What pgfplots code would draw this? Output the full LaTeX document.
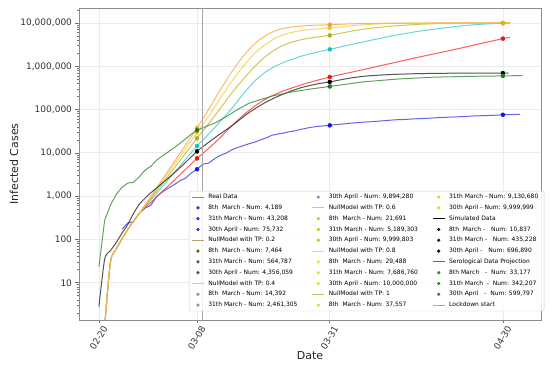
\documentclass[border=0pt]{standalone}
\usepackage{fontspec}
\setmainfont{DejaVu Sans}
\usepackage{pgfplots}
\pgfplotsset{compat=1.18}

% plot colours
\definecolor{cReal}{RGB}{60,60,235}
\definecolor{cT02}{RGB}{255,50,50}
\definecolor{cT04}{RGB}{64,208,200}
\definecolor{cT06}{RGB}{195,185,45}
\definecolor{cT08}{RGB}{245,205,70}
\definecolor{cT10}{RGB}{245,170,75}
\definecolor{cSim}{RGB}{40,40,40}
\definecolor{cSero}{RGB}{55,140,55}
\definecolor{cLock}{RGB}{165,165,165}
% marker colours
\definecolor{mReal}{RGB}{20,20,230}
\definecolor{mT02}{RGB}{235,20,20}
\definecolor{mT04}{RGB}{30,190,190}
\definecolor{mT06}{RGB}{175,175,30}
\definecolor{mT08}{RGB}{235,205,30}
\definecolor{mT10}{RGB}{240,165,40}
\definecolor{mSero}{RGB}{30,120,30}
% legend colours
\definecolor{lReal}{RGB}{125,125,230}
\definecolor{lT02}{RGB}{185,160,110}
\definecolor{dT02}{RGB}{95,65,25}
\definecolor{lT04}{RGB}{175,200,240}
\definecolor{dT04}{RGB}{120,135,195}
\definecolor{lT06}{RGB}{210,210,70}
\definecolor{dT06}{RGB}{180,200,30}
\definecolor{lT08}{RGB}{215,215,150}
\definecolor{dT08}{RGB}{225,225,35}
\definecolor{lT10}{RGB}{195,190,90}
\definecolor{dT10}{RGB}{215,215,35}

\pgfplotsset{
  lline/.style={no markers, line width=0.8pt, #1},
  ldot/.style={only marks, mark=*, mark size=1.4pt, #1},
  model/.style={#1, line width=1pt, opacity=0.8, smooth, tension=0.45, forget plot},
  pts/.style={only marks, mark=*, mark size=2pt, #1, forget plot},
}
\newcommand{\lgd}[1]{\makebox[92pt][l]{#1}}

\begin{document}
\begin{tikzpicture}
\begin{axis}[
    scale only axis,
    width=462pt, height=312pt,
    xmin=-3.45, xmax=76.6,
    ymode=log, ymin=1.38, ymax=2.22e7,
    cycle list={{solid}},
    xtick={0,17,40,70},
    xticklabels={02-20,03-08,03-31,04-30},
    ytick={10,100,1000,10000,100000,1000000,10000000},
    yticklabels={10,100,{1,000},{10,000},{100,000},{1,000,000},{10,000,000}},
    minor ytick={2,3,4,5,6,7,8,9,20,30,40,50,60,70,80,90,
      200,300,400,500,600,700,800,900,2000,3000,4000,5000,6000,7000,8000,9000,
      20000,30000,40000,50000,60000,70000,80000,90000,
      200000,300000,400000,500000,600000,700000,800000,900000,
      2000000,3000000,4000000,5000000,6000000,7000000,8000000,9000000,20000000},
    tick align=outside, tick pos=left,
    major tick length=3.5pt, minor tick length=2pt,
    grid=major,
    major grid style={black!8, line width=0.8pt},
    axis line style={black!45, line width=0.8pt},
    every tick/.style={black!55, line width=0.6pt},
    tick label style={font=\fontsize{9}{10}\selectfont, text=black!80},
    xticklabel style={rotate=60, anchor=north east, xshift=4pt},
    xlabel={Date}, ylabel={Infected Cases},
    label style={font=\fontsize{11}{13}\selectfont, text=black!85},
    xlabel style={at={(axis description cs:0.5,-0.1154)}, anchor=center},
    ylabel style={at={(axis description cs:-0.1407,0.5)}, anchor=center},
    legend image code/.code={\draw[mark repeat=2, mark phase=2, #1]
      plot coordinates {(0pt,0pt) (6pt,0pt) (12pt,0pt)};},
    legend columns=11,
    transpose legend,
    legend cell align=left,
    legend style={
      at={(0.238,0.4135)}, anchor=north west,
      font=\fontsize{6}{7}\selectfont,
      fill=white, fill opacity=0.85, text opacity=1,
      draw=black!20, rounded corners=2pt, inner sep=2.4pt,
      row sep=3.8pt,
      nodes={inner sep=0.6pt, text height=4.5pt, text depth=1.3pt},
      /tikz/every odd column/.append style={column sep=3.4pt},
      /tikz/every even column/.append style={column sep=11pt},
    },
]

% Real data
\addplot[cReal, line width=1pt, opacity=0.8, forget plot] coordinates {
(4,172) (5,240) (6,258) (7,403) (8,531) (9,615) (10,984) (11,1254) (12,1520)
(13,1820) (14,2251) (15,2612) (16,3420) (17,4189) (18,5469) (19,5791) (20,7280)
(21,8725) (22,9820) (23,11685) (24,13272) (25,14649) (26,16220) (27,17713)
(28,19884) (29,22264) (30,25515) (31,27206) (32,28761) (33,30703) (34,32346)
(35,34889) (36,37298) (37,39415) (38,41007) (39,42161) (40,43208) (41,44773)
(42,46065) (43,47520) (44,49118) (45,50455) (46,51534) (47,52325) (48,53414)
(49,54802) (50,56048) (51,57592) (52,58729) (53,59052) (54,60314) (55,61326)
(56,62153) (57,63094) (58,64135) (59,65381) (60,66236) (61,66971) (62,67931)
(63,68824) (64,70161) (65,71256) (66,71969) (67,72889) (68,73479) (69,74348)
(70,75732) (71,76469) (72,77002) (73,77528)
};
\addplot[pts=mReal] coordinates {(17,4189) (40,43208) (70,75732)};

% NullModel TP 0.2
\addplot[model=cT02] coordinates {
(1,1) (2,30) (3,60) (5,170) (7,400) (9,714) (11,1280) (13,2300) (15,4130)
(17,7464) (19,12600) (21,22400) (23,41700) (25,74100) (27,120000) (29,178000)
(31,240000) (33,302000) (36,407000) (40,564787) (45,794000) (50,1120000)
(55,1585000) (60,2190000) (65,3090000) (70,4356059) (71.2,4680000)
};
\addplot[pts=mT02] coordinates {(17,7464) (40,564787) (70,4356059)};

% NullModel TP 0.4
\addplot[model=cT04] coordinates {
(1,1) (2,30) (3,60) (5,170) (7,400) (9,817) (11,1675) (13,3435) (15,7030)
(17,14392) (19,26900) (21,52500) (23,105000) (25,229000) (27,457000)
(29,759000) (31,1070000) (33,1380000) (36,1860000) (40,2461305) (45,3470000)
(50,4790000) (55,6310000) (60,7760000) (65,9120000) (70,9894280) (71.2,9920000)
};
\addplot[pts=mT04] coordinates {(17,14392) (40,2461305) (70,9894280)};

% NullModel TP 0.6
\addplot[model=cT06] coordinates {
(1,1) (2,30) (3,60) (5,170) (7,400) (9,885) (11,1970) (13,4380) (15,9750)
(17,21691) (19,46800) (21,105000) (23,240000) (25,501000) (27,1000000)
(29,1740000) (31,2630000) (33,3470000) (36,4370000) (40,5189303) (45,6920000)
(50,8320000) (55,9230000) (60,9770000) (70,9999803) (71.2,9999900)
};
\addplot[pts=mT06] coordinates {(17,21691) (40,5189303) (70,9999803)};

% NullModel TP 0.8
\addplot[model=cT08] coordinates {
(1,1) (2,30) (3,60) (5,170) (7,400) (9,942) (11,2230) (13,5270) (15,12500)
(17,29488) (19,70800) (21,178000) (23,447000) (25,1000000) (27,2000000)
(29,3310000) (31,4790000) (33,5890000) (36,6920000) (40,7686760) (45,8910000)
(50,9660000) (55,9930000) (70,10000000) (71.2,10000000)
};
\addplot[pts=mT08] coordinates {(17,29488) (40,7686760) (70,10000000)};

% NullModel TP 1
\addplot[model=cT10] coordinates {
(1,1) (2,30) (3,60) (5,170) (7,400) (9,989) (11,2455) (13,6100) (15,15100)
(17,37557) (19,100000) (21,282000) (23,741000) (25,1700000) (27,3310000)
(29,5250000) (31,6920000) (33,7940000) (36,8710000) (40,9130680) (45,9660000)
(50,9890000) (55,9990000) (70,9999999) (71.2,10000000)
};
\addplot[pts=mT10] coordinates {(17,37557) (40,9130680) (70,9999999)};

% Simulated data
\addplot[model=cSim] coordinates {
(0,2.8) (1,35) (2,55) (3,85) (4,140) (5,220) (6,400) (7,650) (8,900) (9,1200)
(11,2000) (13,3400) (15,6000) (17,10837) (20,22000) (23,42000) (26,85000)
(29,150000) (32,230000) (35,320000) (38,395000) (40,435228) (43,520000)
(46,590000) (50,640000) (55,675000) (60,690000) (65,695000) (70,696890) (71,697000)
};
\addplot[pts=black] coordinates {(17,10837) (40,435228) (70,696890)};

% Serological data projection
\addplot[cSero, line width=1pt, opacity=0.8, forget plot] coordinates {
(0,23.5) (1,280) (2,620) (3,1100) (4,1600) (5,2000) (6,2100) (7,2800) (8,4000)
(9,4900) (10,6800) (11,8500) (12,10500) (13,13000) (14,16500) (15,21000)
(16,27000) (17,33177) (18,38000) (19,43000) (20,48000) (22,68000) (24,100000)
(26,140000) (28,170000) (30,205000) (33,250000) (36,290000) (40,342207)
(46,440000) (52,510000) (58,560000) (64,585000) (70,599797) (73.4,610000)
};
\addplot[pts=mSero] coordinates {(17,33177) (40,342207) (70,599797)};

% Lockdown
\addplot[cLock, line width=0.9pt, forget plot] coordinates {(18,1.38) (18,2.22e7)};

% legend
\addlegendimage{lline=lReal}\addlegendentry{\lgd{Real Data}}
\addlegendimage{ldot=mReal}\addlegendentry{\lgd{8th\ \ March - Num: 4,189}}
\addlegendimage{ldot=mReal}\addlegendentry{\lgd{31th March - Num: 43,208}}
\addlegendimage{ldot=mReal}\addlegendentry{\lgd{30th April - Num: 75,732}}
\addlegendimage{lline=lT02}\addlegendentry{\lgd{NullModel with TP: 0.2}}
\addlegendimage{ldot=dT02}\addlegendentry{\lgd{8th\ \ March - Num: 7,464}}
\addlegendimage{ldot=dT02}\addlegendentry{\lgd{31th March - Num: 564,787}}
\addlegendimage{ldot=dT02}\addlegendentry{\lgd{30th April - Num: 4,356,059}}
\addlegendimage{lline=lT04}\addlegendentry{\lgd{NullModel with TP: 0.4}}
\addlegendimage{ldot=dT04}\addlegendentry{\lgd{8th\ \ March - Num: 14,392}}
\addlegendimage{ldot=dT04}\addlegendentry{\lgd{31th March - Num: 2,461,305}}
\addlegendimage{ldot=dT04}\addlegendentry{\lgd{30th April - Num: 9,894,280}}
\addlegendimage{lline=lT06}\addlegendentry{\lgd{NullModel with TP: 0.6}}
\addlegendimage{ldot=dT06}\addlegendentry{\lgd{8th\ \ March - Num: 21,691}}
\addlegendimage{ldot=dT06}\addlegendentry{\lgd{31th March - Num: 5,189,303}}
\addlegendimage{ldot=dT06}\addlegendentry{\lgd{30th April - Num: 9,999,803}}
\addlegendimage{lline=lT08}\addlegendentry{\lgd{NullModel with TP: 0.8}}
\addlegendimage{ldot=dT08}\addlegendentry{\lgd{8th\ \ March - Num: 29,488}}
\addlegendimage{ldot=dT08}\addlegendentry{\lgd{31th March - Num: 7,686,760}}
\addlegendimage{ldot=dT08}\addlegendentry{\lgd{30th April - Num: 10,000,000}}
\addlegendimage{lline=lT10}\addlegendentry{\lgd{NullModel with TP: 1}}
\addlegendimage{ldot=dT10}\addlegendentry{\lgd{8th\ \ March - Num: 37,557}}
\addlegendimage{ldot=dT10}\addlegendentry{\lgd{31th March - Num: 9,130,680}}
\addlegendimage{ldot=dT10}\addlegendentry{\lgd{30th April - Num: 9,999,999}}
\addlegendimage{lline=black}\addlegendentry{\lgd{Simulated Data}}
\addlegendimage{ldot=black}\addlegendentry{\lgd{8th\ \ March -\ \ \ Num: 10,837}}
\addlegendimage{ldot=black}\addlegendentry{\lgd{31th March -\ \ \ Num: 435,228}}
\addlegendimage{ldot=black}\addlegendentry{\lgd{30th April -\ \ \ Num: 696,890}}
\addlegendimage{lline=cSero}\addlegendentry{\lgd{Serological Data Projection}}
\addlegendimage{ldot=mSero}\addlegendentry{\lgd{8th March\ \ \ -\ \ Num: 33,177}}
\addlegendimage{ldot=mSero}\addlegendentry{\lgd{31th March\ \ -\ \ Num: 342,207}}
\addlegendimage{ldot=mSero}\addlegendentry{\lgd{30th April\ \ \ -\ \ Num: 599,797}}
\addlegendimage{lline=cLock}\addlegendentry{\lgd{Lockdown start}}
\end{axis}
\pgfresetboundingbox
\path[use as bounding box] (-79pt,-49pt) rectangle (471pt,320pt);
\end{tikzpicture}
\end{document}
